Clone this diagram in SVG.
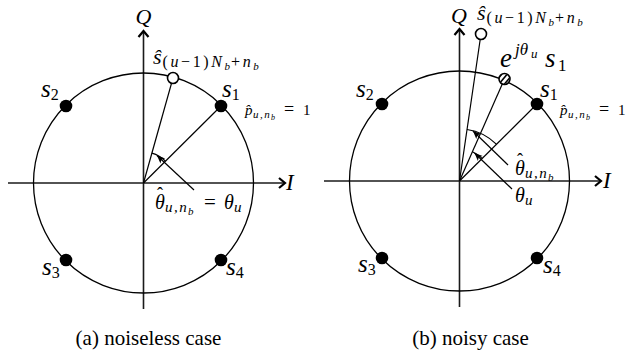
<svg xmlns="http://www.w3.org/2000/svg" width="629" height="358" viewBox="0 0 629 358">
<defs>
<style>
.ax{stroke:#1a1a1a;stroke-width:1.6;fill:none}
.ln{stroke:#000;stroke-width:1.2;fill:none}
.cir{stroke:#000;stroke-width:1.3;fill:none}
.dot{fill:#000}
.open{fill:#fff;stroke:#000;stroke-width:1.6}
text{font-family:"Liberation Serif","Times New Roman",serif;fill:#000}
.m{font-style:italic}
.r{font-style:normal}
.sub{font-size:16px;letter-spacing:2.6px}
.sb{font-size:11px}
</style>
<marker id="axarr" markerUnits="userSpaceOnUse" markerWidth="14" markerHeight="14" viewBox="-10 -7 14 14" refX="0" refY="0" orient="auto">
<path d="M -6 -5 L 0 0 L -6 5" fill="none" stroke="#000" stroke-width="2.2"/>
</marker>
<marker id="parr" markerUnits="userSpaceOnUse" markerWidth="12" markerHeight="12" viewBox="-10 -6 12 12" refX="0" refY="0" orient="auto">
<path d="M 0 0 L -8 -3.5 L -6 0 L -8 3.5 Z" fill="#000"/>
</marker>
<clipPath id="hc"><circle cx="504.5" cy="79" r="5"/></clipPath>
</defs>

<g id="connectors">
<line class="ax" x1="8" y1="183" x2="285" y2="183" marker-end="url(#axarr)"/>
<line class="ax" x1="143.5" y1="309" x2="143.5" y2="31" marker-end="url(#axarr)"/>
<circle class="cir" cx="143.5" cy="183" r="110"/>
<line class="ln" x1="143.5" y1="183" x2="173" y2="78"/>
<line class="ln" x1="143.5" y1="183" x2="221" y2="106"/>
<path class="ln" d="M 165.4 161.1 A 31 31 0 0 0 151.9 153.2"/>
<line class="ln" x1="194" y1="190" x2="157" y2="155.5" marker-end="url(#parr)"/>
<line class="ax" x1="324" y1="181" x2="601" y2="181" marker-end="url(#axarr)"/>
<line class="ax" x1="459.5" y1="307" x2="459.5" y2="29" marker-end="url(#axarr)"/>
<circle class="cir" cx="459.5" cy="181" r="110"/>
<line class="ln" x1="459.5" y1="181" x2="481" y2="34"/>
<line class="ln" x1="459.5" y1="181" x2="504.5" y2="79"/>
<line class="ln" x1="459.5" y1="181" x2="537" y2="104"/>
<path class="ln" d="M 496.3 144.2 A 52 52 0 0 0 467 129.5"/>
<path class="ln" d="M 482.1 158.4 A 32 32 0 0 0 472.4 151.7"/>
<line class="ln" x1="508" y1="165" x2="473" y2="131" marker-end="url(#parr)"/>
<line class="ln" x1="512" y1="189" x2="474.5" y2="153" marker-end="url(#parr)"/>
</g>

<g id="left-points">
<circle class="dot" cx="221" cy="106" r="6.3"/>
<circle class="dot" cx="66" cy="106" r="6.3"/>
<circle class="dot" cx="66" cy="260" r="6.3"/>
<circle class="dot" cx="221" cy="260" r="6.3"/>
<circle class="open" cx="173" cy="78" r="5.5"/>
</g>

<g id="right-points">
<circle class="dot" cx="537" cy="104" r="6.3"/>
<circle class="dot" cx="382" cy="104" r="6.3"/>
<circle class="dot" cx="382" cy="258" r="6.3"/>
<circle class="dot" cx="537" cy="258" r="6.3"/>
<circle class="open" cx="481" cy="34" r="5.5"/>
<circle cx="504.5" cy="79" r="5.5" fill="#fff"/>
<g clip-path="url(#hc)" stroke="#000" stroke-width="1.6">
<line x1="499" y1="84" x2="509" y2="72"/>
<line x1="496" y1="81" x2="506" y2="69"/>
<line x1="502" y1="87" x2="512" y2="75"/>
</g>
<circle cx="504.5" cy="79" r="5.5" fill="none" stroke="#000" stroke-width="1.6"/>
</g>

<g id="left-labels">
<text class="m" x="143.5" y="24" font-size="22" text-anchor="middle">Q</text>
<text class="m" x="286" y="190" font-size="23">I</text>
<text class="m" x="153" y="64" font-size="22">ŝ<tspan class="sub" dx="1" dy="3"><tspan class="r">(</tspan>u<tspan class="r">−1)</tspan>N</tspan><tspan class="sb" dy="3">b</tspan><tspan class="sub" dx="1" dy="-3"><tspan class="r">+</tspan>n</tspan><tspan class="sb" dy="3">b</tspan></text>
<text class="m" x="222" y="97" font-size="25">s<tspan class="r" font-size="16" dy="3">1</tspan></text>
<text class="m" font-size="15"><tspan x="245" y="115">p̂</tspan><tspan font-size="11" letter-spacing="1.5"><tspan x="253" y="118">u,n</tspan></tspan><tspan x="271" y="120" font-size="8">b</tspan><tspan class="r" x="284" y="115" font-size="18">=</tspan><tspan class="r" x="303" y="115" font-size="15">1</tspan></text>
<text class="m" x="41" y="97" font-size="25">s<tspan class="r" font-size="16" dy="3">2</tspan></text>
<text class="m" x="42" y="275" font-size="25">s<tspan class="r" font-size="16" dy="3">3</tspan></text>
<text class="m" x="226" y="275" font-size="25">s<tspan class="r" font-size="16" dy="3">4</tspan></text>
<text class="m" font-size="20"><tspan x="155" y="209">θ</tspan><tspan class="r" x="157" y="200" font-size="18">ˆ</tspan><tspan font-size="15" letter-spacing="1.5"><tspan x="165" y="212">u,n</tspan></tspan><tspan x="188" y="215" font-size="11">b</tspan><tspan class="r" x="204" y="209" font-size="21">=</tspan><tspan x="224" y="209">θ</tspan><tspan x="234" y="212" font-size="15">u</tspan></text>
</g>

<g id="right-labels">
<text class="m" x="459" y="23" font-size="22" text-anchor="middle">Q</text>
<text class="m" x="603" y="188" font-size="23">I</text>
<text class="m" x="477" y="20" font-size="22">ŝ<tspan class="sub" dx="1" dy="3"><tspan class="r">(</tspan>u<tspan class="r">−1)</tspan>N</tspan><tspan class="sb" dy="3">b</tspan><tspan class="sub" dx="1" dy="-3"><tspan class="r">+</tspan>n</tspan><tspan class="sb" dy="3">b</tspan></text>
<text class="m" font-size="27"><tspan x="500" y="67">e</tspan><tspan font-size="17"><tspan x="515" y="55">jθ</tspan></tspan><tspan x="531" y="58" font-size="13">u</tspan><tspan x="545" y="67">s</tspan><tspan class="r" x="558" y="71" font-size="17">1</tspan></text>
<text class="m" x="540" y="97" font-size="25">s<tspan class="r" font-size="16" dy="3">1</tspan></text>
<text class="m" font-size="15"><tspan x="560" y="115">p̂</tspan><tspan font-size="11" letter-spacing="1.5"><tspan x="568" y="118">u,n</tspan></tspan><tspan x="586" y="120" font-size="8">b</tspan><tspan class="r" x="599" y="115" font-size="18">=</tspan><tspan class="r" x="618" y="115" font-size="15">1</tspan></text>
<text class="m" x="356" y="97" font-size="25">s<tspan class="r" font-size="16" dy="3">2</tspan></text>
<text class="m" x="358" y="272" font-size="25">s<tspan class="r" font-size="16" dy="3">3</tspan></text>
<text class="m" x="543" y="273" font-size="25">s<tspan class="r" font-size="16" dy="3">4</tspan></text>
<text class="m" font-size="20"><tspan x="515" y="175">θ</tspan><tspan class="r" x="517" y="166" font-size="18">ˆ</tspan><tspan font-size="15" letter-spacing="1.5"><tspan x="525" y="178">u,n</tspan></tspan><tspan x="548" y="181" font-size="11">b</tspan></text>
<text class="m" font-size="20"><tspan x="515" y="202">θ</tspan><tspan x="525" y="205" font-size="15">u</tspan></text>
</g>

<g id="captions" font-size="21">
<text x="148.5" y="345" text-anchor="middle">(a) noiseless case</text>
<text x="470.5" y="345" text-anchor="middle">(b) noisy case</text>
</g>
</svg>
